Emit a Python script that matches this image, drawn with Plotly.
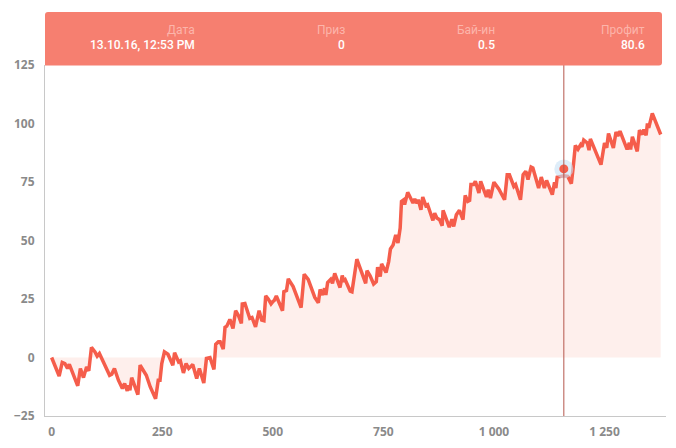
import plotly.graph_objects as go

# values
games = [0, 17, 24, 30, 36, 40, 59, 65, 72, 79, 84, 90, 98, 103, 108, 117, 131, 136, 142, 151, 160, 165, 171, 173, 177, 181, 195, 200, 214, 223, 235, 241, 245, 249, 255, 263, 274, 278, 287, 291, 298, 304, 310, 314, 319, 328, 334,
         344, 350, 358, 367, 371, 377, 381, 388, 392, 396, 403, 410, 416, 422, 429, 431, 437, 448, 453, 461, 469, 475, 480, 484, 490, 496, 500, 503, 508, 522, 525, 531, 535, 543, 546, 564, 571, 580, 595, 603, 607, 612, 617, 620, 624, 631, 635, 640, 652, 657, 661, 664, 675, 679, 685, 690, 710, 713, 720, 728, 734, 737, 743, 746, 756, 762,
         766, 772, 778, 783, 788, 791, 796, 798, 805, 817, 821, 826, 829, 835, 839, 846, 850, 862, 866, 871, 877, 883, 885, 899, 905, 909, 915, 922, 930, 935, 941, 945, 948, 954, 958, 966, 970, 983, 987, 992, 1000, 1011, 1024, 1030, 1035, 1045, 1049, 1060, 1066, 1072, 1077, 1084,
         1088, 1101, 1107, 1114, 1119, 1126, 1132, 1137, 1140, 1143, 1158, 1167, 1175, 1179, 1184, 1190, 1196, 1199, 1203, 1211, 1215, 1218, 1230, 1242, 1250, 1255, 1259, 1270, 1276, 1280, 1285, 1301, 1306, 1309, 1313, 1324, 1329, 1335, 1339, 1344, 1347, 1350, 1358, 1377]
profit = [0, -7.9, -2.1, -2.6, -4.7, -2.9, -12.1, -4.7, -8.6, -4, -5.7, 4.3, 2.4, 0.6, 1.7, -1.9, -7.6, -7.1, -4.7, -9.7, -13.3, -11.1, -14.3, -11.9, -14, -8.6, -15.9, -3.3, -7.6, -12.6, -17.6, -9.7, -9.7, -2.6, 2.4, 1.4, -3.3, 2, -1.9, -1.4, -6.6, -2.6, -4.7, -4, -3, -9, -4.7,
          -10.9, -0.4, 0, -5.1, 5.6, 6.7, 6.7, 3.6, 12.9, 13.4, 16.3, 12.4, 20, 18.1, 14.6, 22.9, 23.1, 16.7, 17.1, 13.1, 20, 16, 15.7, 26.3, 24.9, 22.9, 23.9, 24.3, 26.3, 20, 28.1, 28.6, 33.6, 30.6, 30.3, 21.3, 35.6, 33.4, 25.7, 23.4, 29.1, 26.7, 29.6, 26.7, 32, 33.4, 31.7, 36, 29.9, 35, 32.4, 33.1, 28.4, 28.1, 36, 42, 31.7, 37.1, 34.9, 31.4, 32.4, 38.6, 34.6, 40, 36.3, 41,
          46.4, 48.1, 52.4, 48.9, 55.3, 66.7, 67.4, 65.3, 70.6, 66, 67.7, 66, 67.4, 63.1, 68.6, 64.9, 65.3, 58.6, 61.7, 59.6, 58.9, 56.3, 62.9, 55.7, 59.1, 56, 61, 62.9, 58.9, 69.3, 66.7, 67.1, 73.9, 73.9, 75.3, 70.3, 75.3, 68.6, 71.7, 68.1, 74.9, 72, 67.4, 78.1, 78.1, 73.1, 73.9, 67.4, 78.1, 79.6, 76, 81.4,
          81, 72.4, 77.1, 72.4, 75.7, 72, 69.6, 74.9, 72.4, 77.1, 77.7, 77.4, 74.3, 81, 90.6, 89, 90.9, 90.1, 92.9, 91.7, 88.6, 93.4, 87.4, 82.4, 91.7, 89.6, 95.7, 89.6, 96.4, 94.6, 96.7, 88.9, 91.7, 88.9, 94.3, 88.1, 97.1, 95.3, 97.4, 94.9, 100, 98.1, 104.3, 95.3]

hover_game = [1158]
hover_profit = [80.6]

x_ticks = [0, 250, 500, 750, 1000, 1250]
y_ticks = [-25, 0, 25, 50, 75, 100, 125]

header_labels = ["Дата", "Приз", "Бай-ин", "Профит"]
header_values = ["13.10.16, 12:53 PM", "0", "0.5", "80.6"]
header_right = [195, 345, 495, 645]

W, H = 676, 448
L, R, T, B = 45, 10, 65, 32
FONT = "Noto Sans"
HEADER_FONT = "Roboto"


def px_x(p):
    return (p - L) / (W - L - R)


def px_y(p):
    return 1 - (p - T) / (H - T - B)


fig = go.Figure()
fig.add_trace(go.Scatter(x=games, y=profit, mode="lines", fill="tozeroy",
                         fillcolor="#feefec",
                         line=dict(color="#f55d4b", width=3.5)))
# hovered point with its halo
fig.add_trace(go.Scatter(x=hover_game, y=hover_profit, mode="markers",
                         marker=dict(size=19, color="rgba(200,225,245,0.6)")))
fig.add_trace(go.Scatter(x=hover_game, y=hover_profit, mode="markers",
                         marker=dict(size=9, color="#f55d4b")))

fig.add_shape(type="line", xref="x", yref="paper", x0=hover_game[0], x1=hover_game[0],
              y0=0, y1=1, line=dict(color="#b5574d", width=1))

# header band
x0, x1, y0, y1, r = px_x(45), px_x(662), px_y(12), px_y(65.5), 3
rx, ry = r / (W - L - R), r / (H - T - B)
fig.add_shape(type="path", xref="paper", yref="paper", fillcolor="#f67f70", line_width=0,
              path=f"M {x0} {y1} L {x0} {y0 - ry} Q {x0} {y0} {x0 + rx} {y0} "
                   f"L {x1 - rx} {y0} Q {x1} {y0} {x1} {y0 - ry} L {x1} {y1 + ry} "
                   f"Q {x1} {y1} {x1 - rx} {y1} Z")

for label, value, right in zip(header_labels, header_values, header_right):
    fig.add_annotation(x=px_x(right), y=px_y(30.5), xref="paper", yref="paper", text=label,
                       showarrow=False, xanchor="right", yanchor="middle", xshift=1, borderpad=0,
                       font=dict(family=HEADER_FONT, size=12, color="#fcb5ab"))
    fig.add_annotation(x=px_x(right), y=px_y(45.5), xref="paper", yref="paper", text=value,
                       showarrow=False, xanchor="right", yanchor="middle", xshift=1, borderpad=0,
                       font=dict(family=HEADER_FONT, size=12, color="#ffffff", weight=500))

fig.update_layout(
    width=W, height=H,
    margin=dict(l=L, r=R, t=T, b=B, autoexpand=False),
    paper_bgcolor="#ffffff", plot_bgcolor="#ffffff",
    showlegend=False,
    separators=". ",
    font=dict(family=FONT, size=12, color="#8a8a8a"),
)
fig.update_xaxes(range=[-15, 1389], tickvals=x_ticks, tickformat=",d", showgrid=False, zeroline=False,
                 showline=True, linecolor="#c8c8c8", linewidth=1, ticks="", ticklabelstandoff=5,
                 automargin=False,
                 tickfont=dict(family=FONT, size=12, color="#8a8a8a", weight="bold"))
fig.update_yaxes(range=[-25, 125], tickvals=y_ticks, showgrid=False, zeroline=False,
                 showline=True, linecolor="#c8c8c8", linewidth=1, ticks="", ticklabelstandoff=7,
                 automargin=False,
                 tickfont=dict(family=FONT, size=12, color="#8a8a8a", weight="bold"))

fig.write_html("out.html", config={"displayModeBar": False},
               post_script="document.body.style.margin='0';")
